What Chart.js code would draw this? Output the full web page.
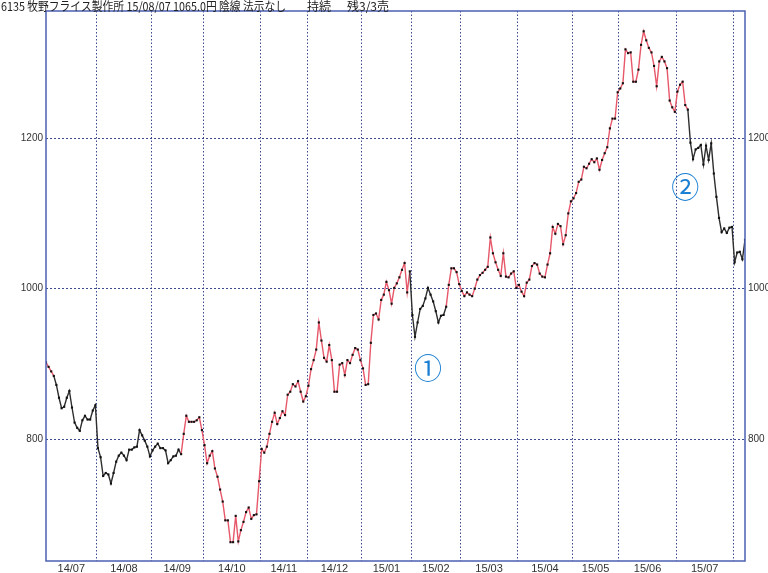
<!DOCTYPE html>
<html>
<head>
<meta charset="utf-8">
<script src="https://cdn.jsdelivr.net/npm/chart.js@4.4.1/dist/chart.umd.min.js"></script>
<style>
  html, body { margin: 0; padding: 0; background: #fff; }
</style>
</head>
<body>
<canvas id="grafico" width="768" height="573"></canvas>
<script>
// cabecera
const titulo = "6135 牧野フライス製作所 15/08/07 1065.0円 陰線 法示なし";
const estado = "持続";
const resto = "残3/3売";

// meses y dias de cotizacion de cada uno
const meses = ["14/07", "14/08", "14/09", "14/10", "14/11", "14/12", "15/01", "15/02", "15/03", "15/04", "15/05", "15/06", "15/07", "15/08"];
const diasPorMes = [20, 21, 20, 22, 18, 21, 19, 19, 22, 21, 18, 22, 22, 5];

// cierres diarios
const cierres = [
  // 14/07
  902, 896, 890, 884, 872, 855, 841, 843, 855, 864, 842, 822, 815, 811, 825, 831, 826, 826, 838, 845,
  // 14/08
  788, 776, 751, 755, 753, 741, 755, 770, 778, 782, 778, 772, 786, 786, 789, 790, 812, 805, 798, 790, 777,
  // 14/09
  785, 790, 794, 788, 788, 785, 768, 772, 777, 778, 786, 780, 807, 831, 823, 823, 823, 825, 829, 812,
  // 14/10
  792, 768, 778, 784, 761, 750, 733, 717, 692, 692, 663, 663, 698, 664, 679, 690, 703, 709, 694, 699, 700, 744,
  // 14/11
  787, 782, 790, 807, 823, 835, 820, 828, 837, 832, 859, 863, 873, 870, 877, 863, 850, 857,
  // 14/12
  871, 893, 905, 919, 955, 931, 908, 903, 925, 905, 863, 863, 899, 901, 885, 905, 901, 912, 921, 919, 905,
  // 15/01
  894, 872, 873, 928, 965, 967, 959, 985, 992, 1009, 998, 980, 1001, 1007, 1015, 1025, 1034, 995, 1023,
  // 15/02
  965, 936, 955, 973, 977, 987, 1001, 992, 983, 970, 955, 964, 965, 976, 1005, 1027, 1027, 1022, 1006,
  // 15/03
  997, 990, 995, 992, 990, 1000, 1012, 1018, 1021, 1025, 1029, 1068, 1047, 1035, 1025, 1017, 1047, 1016, 1015, 1020, 1023, 1001,
  // 15/04
  1005, 996, 990, 1008, 1012, 1030, 1034, 1032, 1020, 1016, 1015, 1032, 1047, 1082, 1073, 1086, 1083, 1059, 1071, 1100, 1116,
  // 15/05
  1120, 1127, 1142, 1145, 1162, 1160, 1166, 1172, 1168, 1173, 1158, 1171, 1180, 1188, 1213, 1226, 1226, 1261,
  // 15/06
  1266, 1273, 1318, 1313, 1314, 1275, 1275, 1291, 1324, 1342, 1330, 1320, 1314, 1296, 1269, 1302, 1308, 1302, 1293, 1250, 1241, 1235,
  // 15/07
  1262, 1271, 1275, 1244, 1238, 1194, 1172, 1185, 1187, 1191, 1165, 1190, 1171, 1193, 1153, 1122, 1094, 1075, 1080, 1074, 1081, 1082,
  // 15/08
  1035, 1048, 1049, 1039, 1065
];

// tramos en negro (indice del primer punto del segmento)
const tramosNegros = [[3, 51], [140, 153], [247, 268]];

const ticksY = [800, 1000, 1200];
const rangoY = [638, 1369];

// marcas numeradas (indice del dia, precio)
const marcas = [
  { texto: "①", dia: 147, precio: 894 },
  { texto: "②", dia: 246, precio: 1134 }
];

// limites de mes y centro de cada mes
const limites = [];
const centros = [];
let acumulado = 0;
diasPorMes.forEach((n, i) => {
  if (i > 0) limites.push(acumulado - 0.5);
  const ini = i === 0 ? 0 : acumulado - 0.5;
  const fin = acumulado + n - 0.5;
  centros.push((ini + Math.min(fin, cierres.length - 1)) / 2);
  acumulado += n;
});
// la etiqueta de agosto no aparece
const centrosVisibles = centros.slice(0, 13);

const puntos = cierres.map((v, i) => ({ x: i, y: v }));
const esNegro = i => tramosNegros.some(([a, b]) => i >= a && i <= b);

const ROJO = '#e6586a';
const NEGRO = '#2e2e2e';
const AZUL_GRID = 'rgba(40, 55, 130, 0.9)';

const marco = {
  id: 'marco',
  afterDatasetsDraw(chart) {
    const { ctx, chartArea: a, scales } = chart;
    ctx.save();
    ctx.strokeStyle = '#4b5fb3';
    ctx.lineWidth = 1.5;
    ctx.strokeRect(a.left, a.top, a.right - a.left, a.bottom - a.top);

    ctx.fillStyle = '#1a7fd2';
    ctx.font = '28px "Noto Sans CJK JP"';
    ctx.textAlign = 'center';
    ctx.textBaseline = 'middle';
    marcas.forEach(m => {
      ctx.fillText(m.texto, scales.x.getPixelForValue(m.dia), scales.y.getPixelForValue(m.precio));
    });

    ctx.fillStyle = '#222';
    ctx.font = '12px "Noto Sans CJK JP"';
    ctx.textAlign = 'left';
    ctx.textBaseline = 'top';
    ctx.fillText(titulo, 1, 0, 285);
    ctx.fillText(estado, 307, 0);
    ctx.fillText(resto, 347, 0);
    ctx.restore();
  }
};

const fuenteEje = { family: 'Liberation Sans', size: 10 };

const ctx = document.getElementById('grafico').getContext('2d');
new Chart(ctx, {
  type: 'line',
  data: {
    datasets: [{
      data: puntos,
      borderWidth: 1.4,
      borderColor: ROJO,
      tension: 0,
      pointStyle: 'rect',
      pointRadius: 1.5,
      pointBorderWidth: 0,
      pointBackgroundColor: '#111',
      segment: {
        borderColor: c => esNegro(c.p0DataIndex) ? NEGRO : ROJO
      }
    }]
  },
  options: {
    responsive: false,
    animation: false,
    layout: { padding: { top: 11, left: 0, right: 0, bottom: 0 } },
    plugins: {
      legend: { display: false },
      tooltip: { enabled: false }
    },
    scales: {
      x: {
        type: 'linear',
        min: 0,
        max: cierres.length - 1,
        position: 'bottom',
        afterBuildTicks: s => { s.ticks = limites.map(v => ({ value: v })); },
        afterFit: s => { s.height = 0; },
        ticks: { display: false },
        grid: { color: AZUL_GRID, lineWidth: 1, drawTicks: false },
        border: { display: false, dash: [1.5, 2] }
      },
      meses: {
        type: 'linear',
        min: 0,
        max: cierres.length - 1,
        position: 'bottom',
        afterBuildTicks: s => { s.ticks = centrosVisibles.map(v => ({ value: v })); },
        afterFit: s => { s.height = 12; },
        ticks: {
          autoSkip: false,
          maxRotation: 0,
          padding: 1,
          color: '#333',
          font: { family: 'Liberation Sans', size: 11 },
          callback: (v, i) => meses[i]
        },
        grid: { display: false, drawTicks: false },
        border: { display: false }
      },
      y: {
        type: 'linear',
        min: rangoY[0],
        max: rangoY[1],
        position: 'left',
        afterBuildTicks: s => { s.ticks = ticksY.map(v => ({ value: v })); },
        afterFit: s => { s.width = 46; },
        ticks: { padding: 3, color: '#333', font: fuenteEje, callback: v => String(v) },
        grid: { color: AZUL_GRID, lineWidth: 1, drawTicks: false },
        border: { display: false, dash: [2, 2] }
      },
      y2: {
        type: 'linear',
        min: rangoY[0],
        max: rangoY[1],
        position: 'right',
        afterBuildTicks: s => { s.ticks = ticksY.map(v => ({ value: v })); },
        afterFit: s => { s.width = 23; },
        ticks: { padding: 3, color: '#333', font: fuenteEje, callback: v => String(v) },
        grid: { display: false, drawTicks: false },
        border: { display: false }
      }
    }
  },
  plugins: [marco]
});
</script>
</body>
</html>
